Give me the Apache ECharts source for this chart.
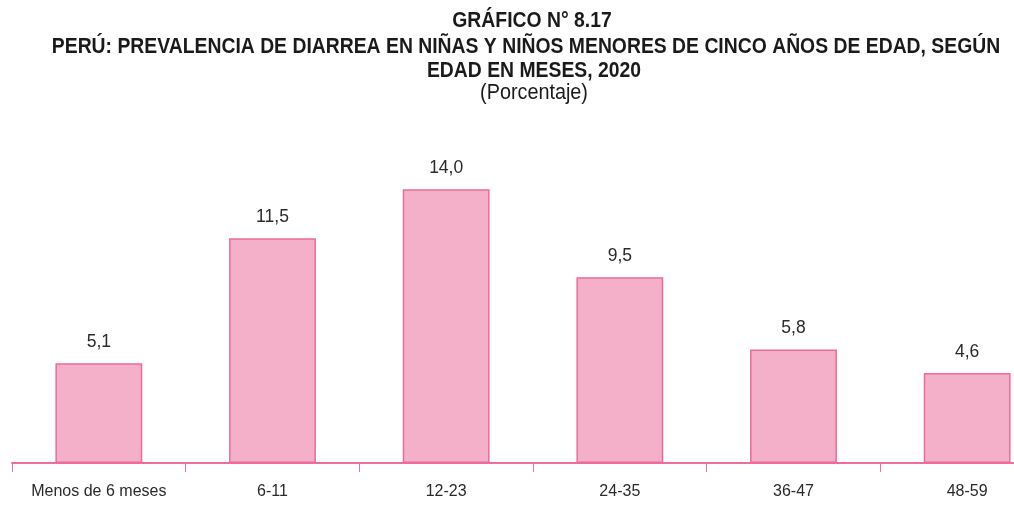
<!DOCTYPE html>
<html><head><meta charset="utf-8">
<script src="https://cdn.jsdelivr.net/npm/echarts@6/dist/echarts.min.js"></script>
<style>html,body{margin:0;padding:0;background:#fff}#c{width:1014px;height:505px}</style>
</head><body><div id="c"></div>
<script>
var categories = ["Menos de 6 meses", "6-11", "12-23", "24-35", "36-47", "48-59"];
var values = [5.1, 11.5, 14.0, 9.5, 5.8, 4.6];
var titleLines = ["GRÁFICO N° 8.17", "PERÚ: PREVALENCIA DE DIARREA EN NIÑAS Y NIÑOS MENORES DE CINCO AÑOS DE EDAD, SEGÚN", "EDAD EN MESES, 2020"];
var subtitle = "(Porcentaje)";

var font = "'Liberation Sans', Arial, sans-serif";
function tline(txt, x, y, bold, size, sx) {
  return {
    type: 'text', x: x, y: y, scaleX: sx, silent: true,
    style: {
      text: txt, x: 0, y: 0, textAlign: 'center', textVerticalAlign: 'top',
      fontFamily: font, fontWeight: bold ? 'bold' : 'normal', fontSize: size, fill: '#1a1a1a'
    }
  };
}
var chart = echarts.init(document.getElementById('c'), null, {renderer: 'canvas'});
chart.setOption({
  animation: false,
  backgroundColor: '#fff',
  graphic: [
    tline(titleLines[0], 532, 10, true, 22, 0.88),
    tline(titleLines[1], 526, 36, true, 22, 0.88),
    tline(titleLines[2], 534, 60, true, 22, 0.88),
    tline(subtitle, 534, 82, false, 22, 0.9)
  ],
  grid: {left: 12, width: 1042, top: 72, bottom: 42, containLabel: false, outerBoundsMode: 'none'},
  xAxis: {
    type: 'category',
    data: categories,
    boundaryGap: true,
    axisLine: {lineStyle: {color: '#EE6D9B', width: 2}},
    axisTick: {show: true, length: 9, lineStyle: {color: '#EE6D9B', width: 1}},
    axisLabel: {fontFamily: font, fontSize: 16, color: '#2a2a2a', margin: 21, interval: 0}
  },
  yAxis: {
    type: 'value', min: 0, max: 20, show: false,
    splitLine: {show: false}
  },
  series: [{
    type: 'bar',
    data: values,
    barWidth: '50%',
    itemStyle: {color: '#F4AFC9', borderColor: '#EE6A9A', borderWidth: 1.5},
    label: {
      show: true, position: 'top', distance: 12,
      fontFamily: font, fontSize: 17.5, color: '#2a2a2a',
      formatter: function (p) { return p.value.toFixed(1).replace('.', ','); }
    }
  }]
});
</script></body></html>
